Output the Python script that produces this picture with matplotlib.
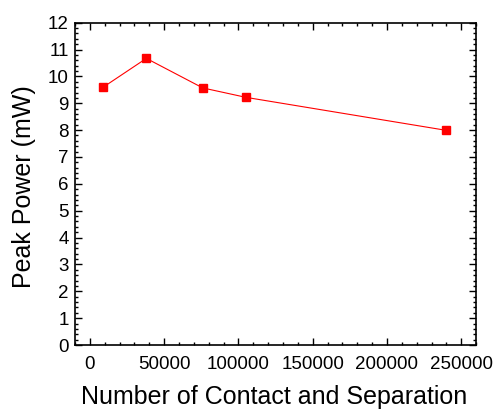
import matplotlib
matplotlib.use("Agg")
import matplotlib.pyplot as plt
from matplotlib.ticker import MultipleLocator

cycles = [9000, 38000, 76000, 105000, 240000]
peak_power = [9.6, 10.67, 9.57, 9.22, 7.99]

plt.rcParams["font.family"] = ["Liberation Sans", "DejaVu Sans"]

fig = plt.figure(figsize=(4.97, 4.12), dpi=100)
ax = fig.add_axes([0.151, 0.1626, 0.807, 0.7824])

ax.plot(cycles, peak_power, "s-", color="red", lw=0.8, ms=5.5)

ax.set_xlim(-10000, 260000)
ax.set_ylim(0, 12)
ax.xaxis.set_major_locator(MultipleLocator(50000))
ax.xaxis.set_minor_locator(MultipleLocator(10000))
ax.yaxis.set_major_locator(MultipleLocator(1))
ax.yaxis.set_minor_locator(MultipleLocator(0.2))

ax.tick_params(which="both", direction="in", top=True, right=True, labelsize=13.5, width=1)
ax.tick_params(which="major", length=5)
ax.tick_params(which="minor", length=2.5)
ax.tick_params(axis="x", pad=8)
ax.tick_params(axis="y", pad=4.5)
for s in ax.spines.values():
    s.set_linewidth(1.2)

ax.set_xlabel("Number of Contact and Separation", fontsize=18)
ax.set_ylabel("Peak Power (mW)", fontsize=18)
ax.xaxis.set_label_coords(0.497, -0.125)
ax.yaxis.set_label_coords(-0.097, 0.49)

fig.savefig("out.png", dpi=100)
